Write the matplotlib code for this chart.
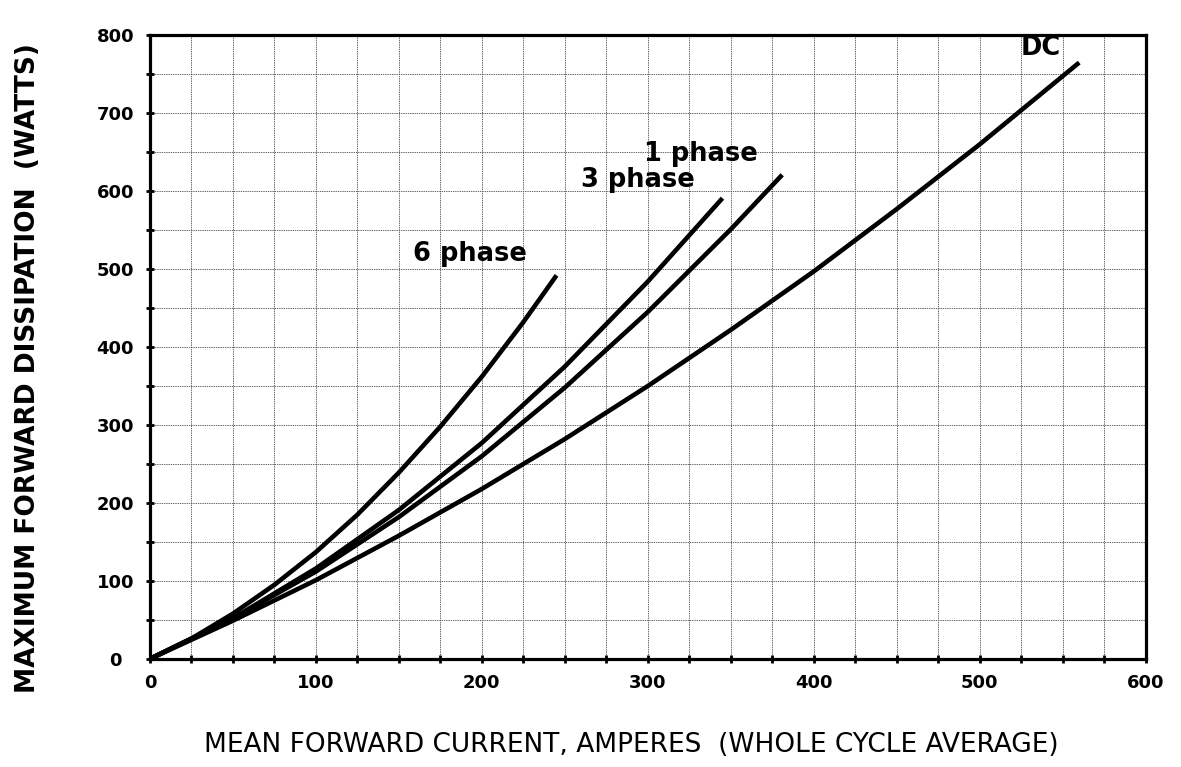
import matplotlib
matplotlib.use("Agg")
import matplotlib.pyplot as plt
from matplotlib.ticker import MultipleLocator

# ---- data ----
current_dc = [0, 50, 100, 150, 200, 250, 300, 350, 400, 450, 500, 560]
power_dc = [0, 49, 101, 158, 218, 282, 350, 422, 497, 577, 660, 765]

current_1ph = [0, 50, 100, 150, 200, 250, 300, 350, 381]
power_1ph = [0, 52, 112, 182, 260, 348, 445, 551, 621]

current_3ph = [0, 50, 100, 150, 200, 250, 300, 345]
power_3ph = [0, 52, 116, 191, 277, 375, 484, 591]

current_6ph = [0, 25, 50, 75, 100, 125, 150, 175, 200, 225, 245]
power_6ph = [0, 26, 58, 95, 137, 185, 239, 298, 362, 432, 492]

x_ticks = [0, 100, 200, 300, 400, 500, 600]
y_ticks = [0, 100, 200, 300, 400, 500, 600, 700, 800]
x_label = "MEAN FORWARD CURRENT, AMPERES  (WHOLE CYCLE AVERAGE)"
y_label = "MAXIMUM FORWARD DISSIPATION  (WATTS)"

# ---- figure ----
fig = plt.figure(figsize=(11.81, 7.67), dpi=100)
ax = fig.add_axes([0.127, 0.141, 0.843, 0.813])

ax.set_xlim(0, 600)
ax.set_ylim(0, 800)

ax.xaxis.set_major_locator(MultipleLocator(100))
ax.xaxis.set_minor_locator(MultipleLocator(25))
ax.yaxis.set_major_locator(MultipleLocator(100))
ax.yaxis.set_minor_locator(MultipleLocator(50))
ax.set_xticks(x_ticks)
ax.set_yticks(y_ticks)
ax.set_xticklabels([str(v) for v in x_ticks])
ax.set_yticklabels([str(v) for v in y_ticks])

ax.grid(True, which="both", color="#5a5a5a", linewidth=0.65,
        linestyle=(0, (1.5, 1.0)))
ax.set_axisbelow(True)

for s in ax.spines.values():
    s.set_linewidth(2.3)
    s.set_color("black")

ax.tick_params(axis="both", which="both", direction="inout", length=6,
               width=2, color="black")
ax.tick_params(axis="x", which="major", pad=8, labelsize=13)
ax.tick_params(axis="y", which="major", pad=22, labelsize=13)
for lab in ax.get_yticklabels():
    lab.set_horizontalalignment("center")
    lab.set_fontweight("bold")
for lab in ax.get_xticklabels():
    lab.set_fontweight("bold")

lw = 3.3
for xs, ys in [(current_dc, power_dc), (current_1ph, power_1ph),
               (current_3ph, power_3ph), (current_6ph, power_6ph)]:
    ax.plot(xs, ys, color="black", linewidth=lw, solid_capstyle="butt")

lab_kw = dict(fontsize=18.5, fontweight="bold", ha="center", va="center",
              color="black")
ax.text(537, 784, "DC", **lab_kw)
ax.text(332, 648, "1 phase", **lab_kw)
ax.text(294, 614, "3 phase", **lab_kw)
ax.text(193, 519, "6 phase", **lab_kw)

fig.text(631 / 1181, 1 - 745 / 767, x_label, ha="center", va="center",
         fontsize=19)
fig.text(28 / 1181, 1 - 368 / 767, y_label, ha="center", va="center",
         rotation=90, fontsize=19, fontweight="bold")

fig.savefig("out.png", dpi=100)
